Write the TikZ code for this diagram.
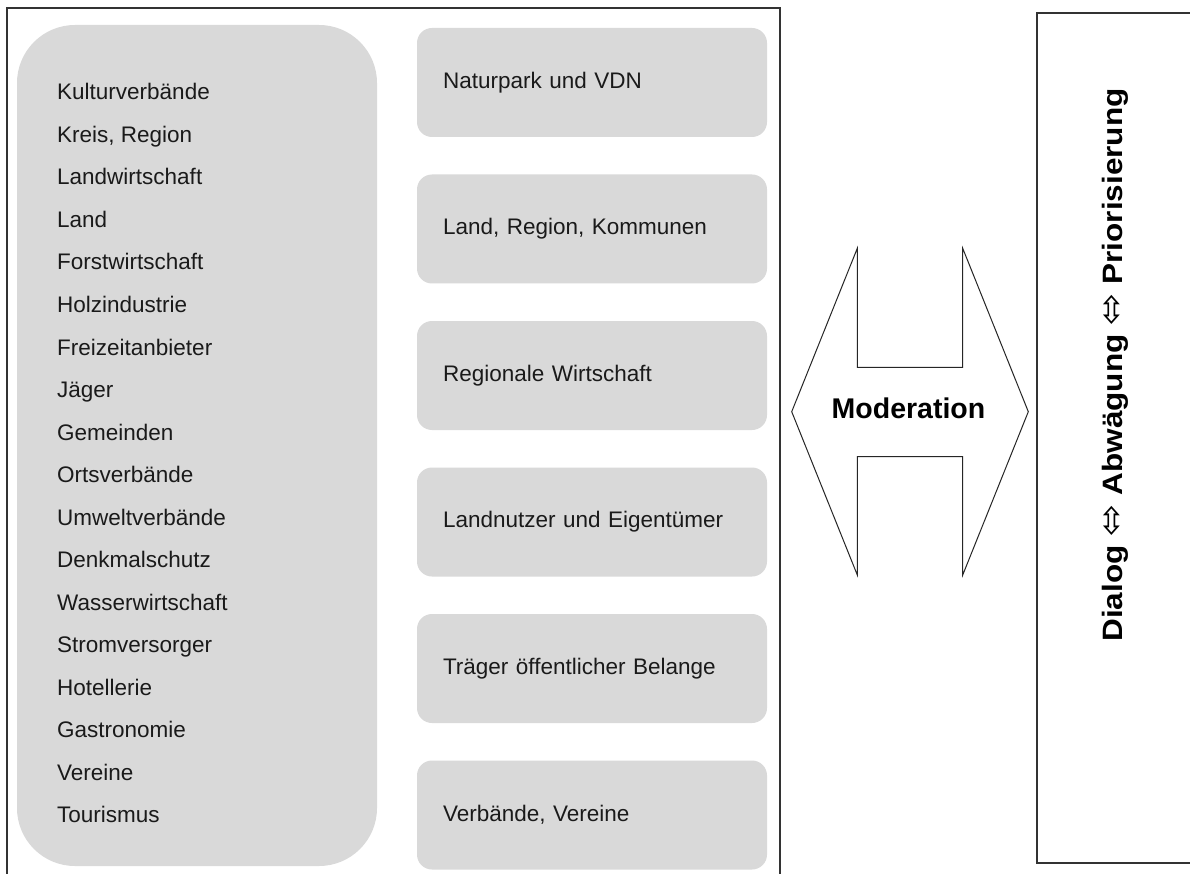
\documentclass[tikz,border=0pt]{standalone}
\usepackage{fontspec}
\setmainfont{Liberation Sans}
\newfontfamily\symfont{DejaVu Sans}
\definecolor{boxgray}{HTML}{D9D9D9}
\definecolor{framegray}{HTML}{333333}
\definecolor{txt}{HTML}{1A1A1A}
\begin{document}
\begin{tikzpicture}[x=1pt,y=-1pt,
  frame/.style={draw=framegray, line width=1.6pt},
  grpbox/.style={fill=boxgray, rounded corners=58pt, minimum width=360pt, minimum height=841pt, inner sep=0pt},
  catbox/.style={fill=boxgray, rounded corners=15pt, minimum width=350pt, minimum height=109pt, inner xsep=26pt, inner ysep=0pt, text width=298pt, align=left, text=txt, font=\fontsize{22.5}{27}\selectfont},
  item/.style={anchor=base west, inner sep=0pt, text=txt, font=\fontsize{22.5}{27}\selectfont},
  dblarrow/.style={draw=black!85, line width=1pt, fill=white, line join=miter},
  boldlabel/.style={anchor=base, inner sep=0pt, text=black, font=\bfseries\fontsize{28.5}{34}\selectfont}
]
\useasboundingbox (0,0) rectangle (1190,874);
\clip (0,0) rectangle (1190,874);
\fill[white] (0,0) rectangle (1190,874);

% frames
\draw[frame] (7,890) -- (7,8) -- (780,8) -- (780,890);
\draw[frame] (1200,13) -- (1037,13) -- (1037,863) -- (1200,863);

% left group box
\node[grpbox] (grp) at (197,445.5) {};
\foreach \t [count=\i from 0] in {Kulturverbände,{Kreis, Region},Landwirtschaft,Land,Forstwirtschaft,Holzindustrie,Freizeitanbieter,Jäger,Gemeinden,Ortsverbände,Umweltverbände,Denkmalschutz,Wasserwirtschaft,Stromversorger,Hotellerie,Gastronomie,Vereine,Tourismus}
  \node[item] (item\i) at (57,{100+42.5*\i}) {\t};

% right category boxes
\node[catbox] (c1) at (592,82.5) {Naturpark und VDN};
\node[catbox] (c2) at (592,229) {Land, Region, Kommunen};
\node[catbox] (c3) at (592,375.5) {Regionale Wirtschaft};
\node[catbox] (c4) at (592,522) {Landnutzer und Eigentümer};
\node[catbox] (c5) at (592,668.5) {Träger öffentlicher Belange};
\node[catbox] (c6) at (592,815) {Verbände, Vereine};

% moderation double arrow
\draw[dblarrow] (791.7,411.7) -- (857.3,248.3) -- (857.3,367.3) -- (962.7,367.3) -- (962.7,248.3) -- (1028.3,411.7) -- (962.7,575) -- (962.7,456.7) -- (857.3,456.7) -- (857.3,575) -- cycle;
\node[boldlabel] (mod) at (908.5,418) {Moderation};

% rotated process text
\node[boldlabel, rotate=90, font=\bfseries\fontsize{28}{34}\selectfont] (proc) at (1122,365)
  {\scalebox{1.125}[1]{Dialog\hspace{8pt}{\symfont\mdseries\fontsize{34}{34}\selectfont ⬄}\hspace{8pt}Abwägung\hspace{8pt}{\symfont\mdseries\fontsize{34}{34}\selectfont ⬄}\hspace{8pt}Priorisierung}};
\end{tikzpicture}
\end{document}
